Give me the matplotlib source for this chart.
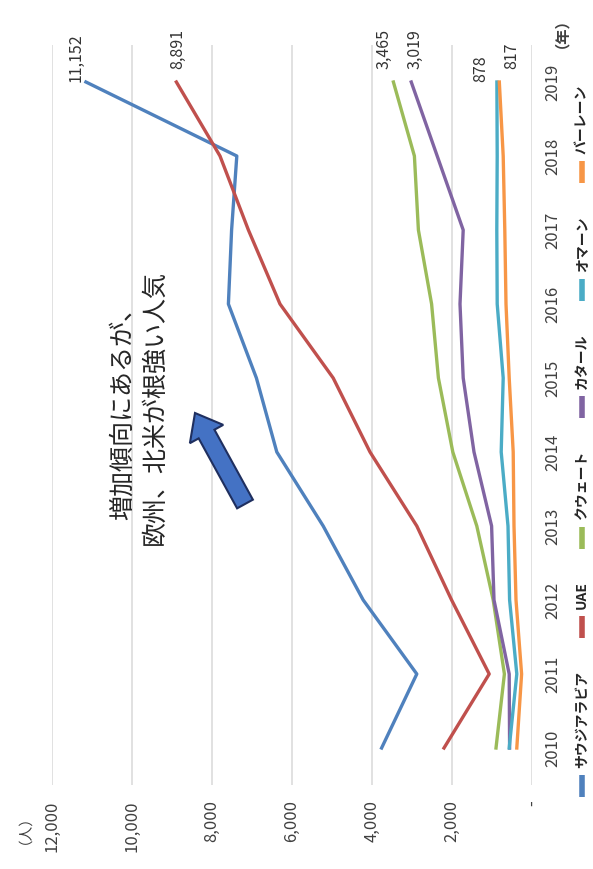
import matplotlib.pyplot as plt
from matplotlib.patches import FancyArrow

plt.rcParams['font.family'] = ['Noto Sans CJK JP', 'DejaVu Sans']

# data
years = [2010, 2011, 2012, 2013, 2014, 2015, 2016, 2017, 2018, 2019]
names = ['サウジアラビア', 'UAE', 'クウェート', 'カタール', 'オマーン', 'バーレーン']
saudi = [3760, 2880, 4220, 5220, 6380, 6890, 7590, 7510, 7380, 11152]
uae = [2200, 1070, 2010, 2880, 4050, 4970, 6300, 7090, 7800, 8891]
kuwait = [900, 690, 970, 1380, 1980, 2340, 2510, 2840, 2940, 3465]
qatar = [560, 570, 950, 1010, 1450, 1720, 1800, 1720, 2370, 3019]
oman = [570, 380, 560, 600, 770, 720, 870, 880, 870, 878]
bahrain = [380, 260, 400, 450, 470, 570, 650, 680, 720, 817]
value_ticks = [0, 2000, 4000, 6000, 8000, 10000, 12000]

series = [saudi, uae, kuwait, qatar, oman, bahrain]
colors = ['#4F81BD', '#C0504D', '#9BBB59', '#8064A2', '#4BACC6', '#F79646']
# label offsets (pixels) for the 2019 data labels
offs = [(-10, 0), (1, 13), (-9, 13), (4, 13), (-16, 0), (12, 13)]

W, H = 593, 869
fig = plt.figure(figsize=(W / 100, H / 100), dpi=100)
fig.patch.set_facecolor('white')

# chart is rotated 90 deg: years run upward, values run leftward
ax = fig.add_axes([52 / W, 1 - 785 / H, 480 / W, 740 / H])
for vals, c in zip(series, colors):
    ax.plot(vals, years, color=c, lw=2.4, zorder=3)

for vals, c, (dx, dy) in zip(series, colors, offs):
    ax.annotate(f'{vals[-1]:,}', xy=(vals[-1], years[-1]), xytext=(dx, dy),
                textcoords='offset pixels', rotation=90, ha='center', va='bottom',
                fontsize=11.5, color='#333333')

ax.set_xlim(12000, 0)
ax.set_ylim(2009.5, 2019.5)
ax.set_xticks(value_ticks)
ax.set_xticklabels(['-' if v == 0 else f'{v:,}' for v in value_ticks])
ax.grid(axis='x', color='#D9D9D9', lw=1.1, zorder=0)
ax.tick_params(axis='x', length=0, pad=11, labelrotation=90, labelsize=12, colors='#404040')
ax.yaxis.tick_right()
ax.set_yticks(years)
ax.set_yticklabels([str(y) for y in years], rotation=90, va='center')
ax.tick_params(axis='y', length=0, pad=9, labelsize=12, colors='#404040')
for s in ax.spines.values():
    s.set_visible(False)

# overlay in pixel coords for legend, notes and arrow
ov = fig.add_axes([0, 0, 1, 1])
ov.set_xlim(0, W)
ov.set_ylim(H, 0)
ov.axis('off')

ov.text(17, 800, '（人）', rotation=90, ha='center', va='top', fontsize=10.5,
        color='#404040')
ov.text(553, 2, '（年）', rotation=90, ha='center', va='top', fontsize=11,
        color='#404040', fontweight='bold')

ov.text(139, 545, '増加傾向にあるが、\n欧州、北米が根強い人気', rotation=90, ha='center',
        va='bottom', fontsize=18, linespacing=1.3, color='#262626')

ov.add_patch(FancyArrow(245, 504, -50, -91, width=18, head_width=38, head_length=24,
                        length_includes_head=True, facecolor='#4472C4',
                        edgecolor='#1F2F5F', lw=1.5))

# legend, drawn by hand along the right edge
fig.canvas.draw()
r = fig.canvas.get_renderer()
txts = []
for n in names:
    t = ov.text(582, 0, n, rotation=90, ha='center', va='bottom', fontsize=10,
                fontweight='bold', color='#262626')
    txts.append(t)
lens = [t.get_window_extent(r).height for t in txts]
mlen, mgap = 22, 7
top, bottom = 85, 797
gap = ((bottom - top) - sum(lens) - len(names) * (mlen + mgap)) / (len(names) - 1)
y = bottom
for t, L, c in zip(txts, lens, colors):
    ov.plot([582, 582], [y, y - mlen], color=c, lw=4, solid_capstyle='butt')
    t.set_y(y - mlen - mgap)
    y -= mlen + mgap + L + gap

fig.savefig('out.png', dpi=100)
